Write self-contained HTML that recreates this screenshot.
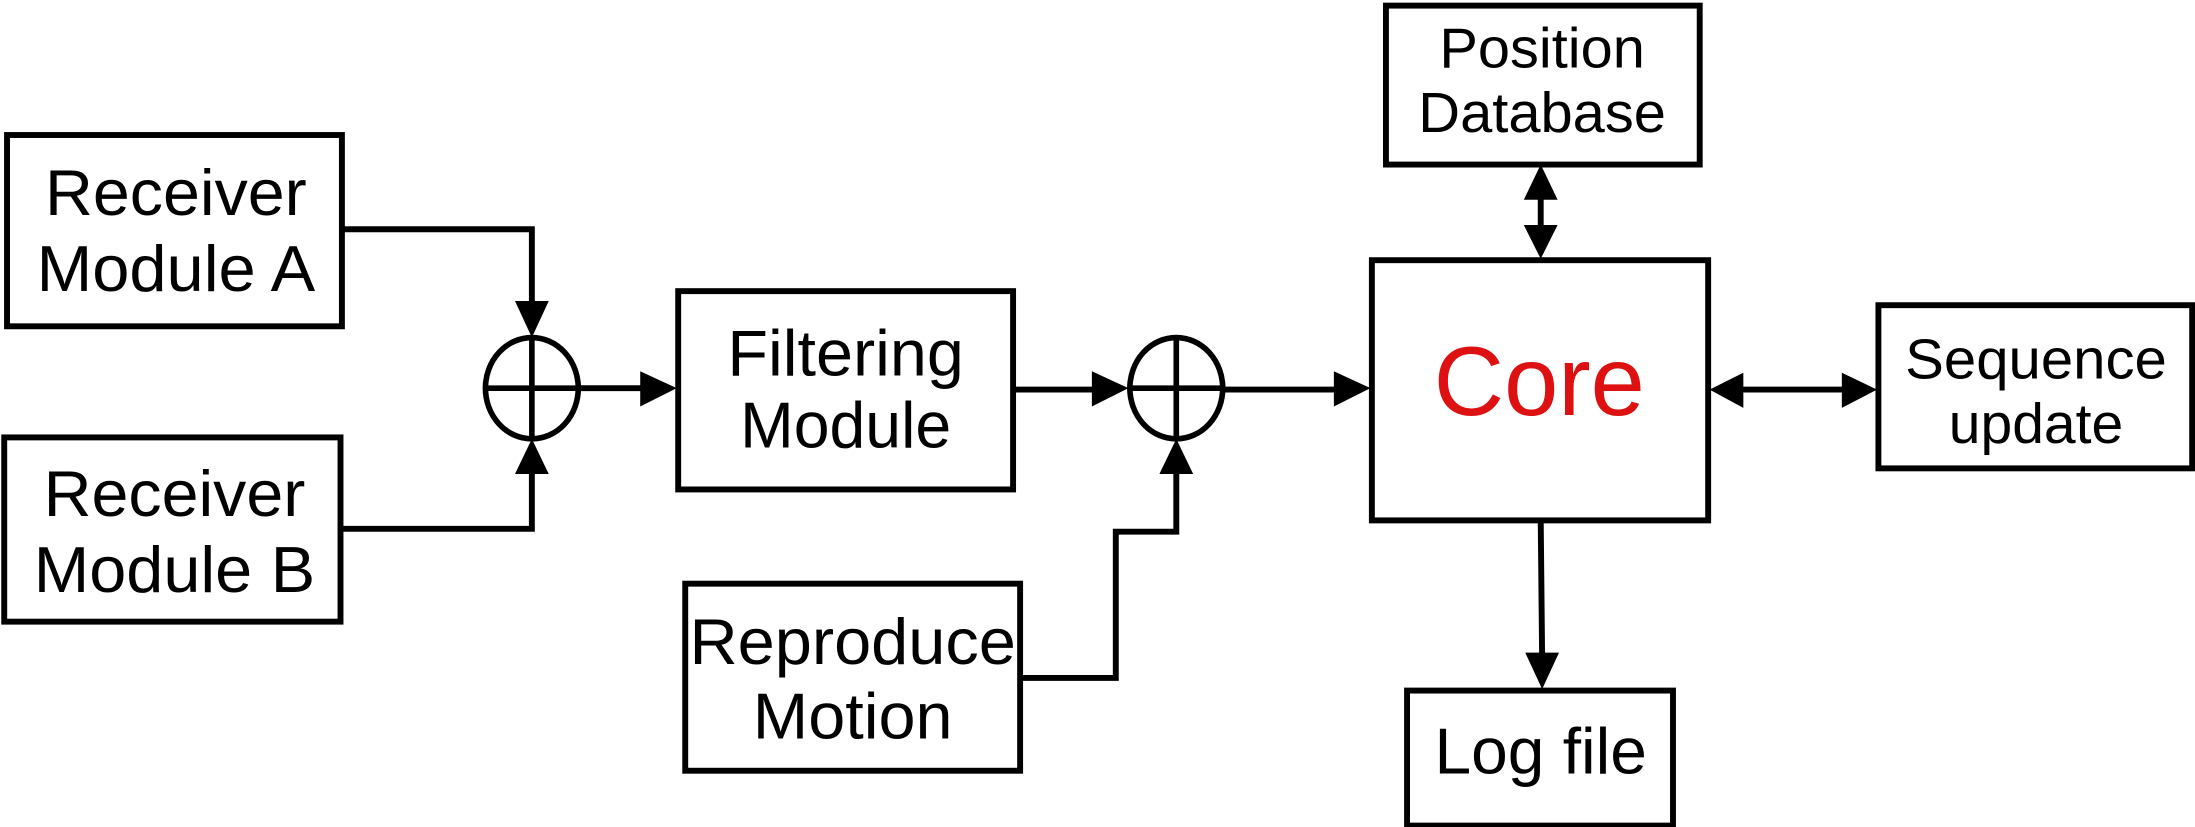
<!DOCTYPE html>
<html><head><meta charset="utf-8"><style>
html,body{margin:0;padding:0;background:#fff;}
svg{display:block;}
text{font-family:"Liberation Sans",Arial,sans-serif;fill:#000;}
</style></head><body>
<svg width="2195" height="827" viewBox="0 0 1560 588" preserveAspectRatio="none" xmlns="http://www.w3.org/2000/svg">
<g fill="none" stroke="#000" stroke-width="4.2">
<rect x="5" y="96" width="238" height="136"/>
<rect x="3" y="311" width="239" height="131"/>
<rect x="482" y="207" width="238" height="141"/>
<rect x="487" y="415" width="238" height="133"/>
<rect x="975" y="185" width="239" height="185"/>
<rect x="985" y="4" width="223" height="113"/>
<rect x="1335" y="217" width="223" height="116"/>
<rect x="1000" y="491" width="189" height="96"/>
<polyline points="243,163 378,163 378,215"/>
<polyline points="242,376 378,376 378,336"/>
<line x1="411" y1="276" x2="460" y2="276"/>
<line x1="720" y1="277" x2="782" y2="277"/>
<polyline points="725,482 793,482 793,378 836,378 836,336"/>
<line x1="869" y1="277" x2="952" y2="277"/>
<line x1="1095" y1="140" x2="1095" y2="162"/>
<line x1="1236" y1="277" x2="1314" y2="277"/>
<line x1="1095" y1="370" x2="1096" y2="468"/>
</g>
<g fill="none" stroke="#000" stroke-width="4">
<ellipse cx="378" cy="276" rx="33" ry="36"/>
<line x1="345" y1="276" x2="411" y2="276"/><line x1="378" y1="240" x2="378" y2="312"/>
<ellipse cx="836" cy="276" rx="33" ry="36"/>
<line x1="803" y1="276" x2="869" y2="276"/><line x1="836" y1="240" x2="836" y2="312"/>
</g>
<g fill="#000">
<polygon points="366,214 390,214 378,240"/>
<polygon points="366,337 390,337 378,312"/>
<polygon points="455,264 455,289 481,276"/>
<polygon points="776,264 776,289 802,276"/>
<polygon points="824,337 848,337 836,312"/>
<polygon points="948,264 948,289 974,276"/>
<polygon points="1083,142 1107,142 1095,117"/>
<polygon points="1083,160 1107,160 1095,184"/>
<polygon points="1239,265 1239,290 1215,277"/>
<polygon points="1309,265 1309,290 1334,277"/>
<polygon points="1084,464 1108,464 1096,490"/>
</g>
<g font-size="46" text-anchor="middle">
<text x="125" y="153" textLength="186" lengthAdjust="spacingAndGlyphs">Receiver</text>
<text x="125" y="207" textLength="198" lengthAdjust="spacingAndGlyphs">Module A</text>
<text x="124" y="367" textLength="186" lengthAdjust="spacingAndGlyphs">Receiver</text>
<text x="124" y="421" textLength="200" lengthAdjust="spacingAndGlyphs">Module B</text>
<text x="601" y="267" textLength="168" lengthAdjust="spacingAndGlyphs">Filtering</text>
<text x="601" y="318" textLength="150" lengthAdjust="spacingAndGlyphs">Module</text>
<text x="606" y="472" textLength="232" lengthAdjust="spacingAndGlyphs">Reproduce</text>
<text x="606" y="525" textLength="142" lengthAdjust="spacingAndGlyphs">Motion</text>
<text x="1095" y="550" textLength="151" lengthAdjust="spacingAndGlyphs">Log file</text>
</g>
<g font-size="40" text-anchor="middle">
<text x="1096" y="48" textLength="146" lengthAdjust="spacingAndGlyphs">Position</text>
<text x="1096" y="94" textLength="176" lengthAdjust="spacingAndGlyphs">Database</text>
<text x="1447" y="269" textLength="186" lengthAdjust="spacingAndGlyphs">Sequence</text>
<text x="1447" y="315" textLength="124" lengthAdjust="spacingAndGlyphs">update</text>
</g>
<text x="1094" y="295" font-size="70" text-anchor="middle" style="fill:#dd1111" textLength="150" lengthAdjust="spacingAndGlyphs">Core</text>
</svg>
</body></html>
